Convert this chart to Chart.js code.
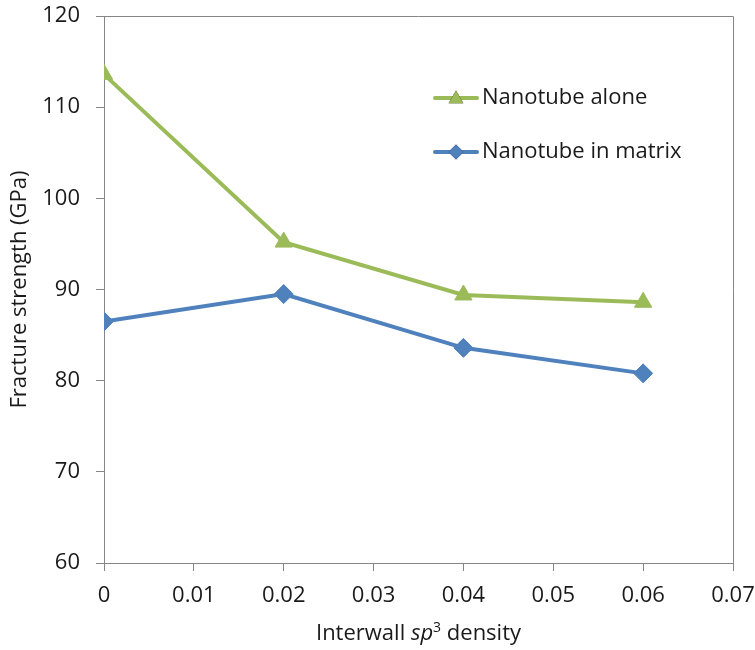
<!DOCTYPE html>
<html>
<head>
<meta charset="utf-8">
<script src="https://cdn.jsdelivr.net/npm/chart.js@4"></script>
<style>
  html, body { margin: 0; padding: 0; background: #ffffff; }
  #wrap { width: 755px; height: 650px; position: relative; }
</style>
</head>
<body>
<div id="wrap"><canvas id="c" width="755" height="650"></canvas></div>
<script>
// ---- data ----
const densities = [0, 0.02, 0.04, 0.06];
const nanotubeAlone = [113.6, 95.2, 89.4, 88.6];
const nanotubeInMatrix = [86.5, 89.5, 83.6, 80.8];
const seriesNames = ['Nanotube alone', 'Nanotube in matrix'];
const xTickValues = [0, 0.01, 0.02, 0.03, 0.04, 0.05, 0.06, 0.07];
const yAxisTitle = 'Fracture strength (GPa)';
const xTitleParts = [['Interwall ', 'normal', false], ['sp', 'italic', false], ['3', 'normal', true], [' density', 'normal', false]];

const FONT = '"Open Sans", Lato, sans-serif';
const FS = 22;
const AXIS_COLOR = '#868686';
const TEXT_COLOR = '#1a1a1a';
const GREEN = '#9BBB59';
const BLUE = '#4F81BD';

const toXY = (xs, ys) => xs.map((x, i) => ({ x: x, y: ys[i] }));

const legendPlugin = {
  id: 'insideLegend',
  afterDraw(chart) {
    const ctx = chart.ctx;
    const items = [
      { ds: chart.data.datasets[0], y: 98 },
      { ds: chart.data.datasets[1], y: 152 }
    ];
    ctx.save();
    items.forEach(it => {
      const ds = it.ds;
      const tri = ds.pointStyle === 'triangle';
      ctx.strokeStyle = ds.borderColor;
      ctx.lineWidth = 4;
      ctx.lineCap = 'round';
      ctx.beginPath();
      ctx.moveTo(435, it.y);
      ctx.lineTo(477, it.y);
      ctx.stroke();
      Chart.helpers.drawPoint(ctx, { pointStyle: ds.pointStyle, radius: tri ? 8.5 : 7.5, rotation: 0 }, 456, it.y + (tri ? 1 : 0));
      ctx.fillStyle = ds.borderColor;
      ctx.fill();
      ctx.fillStyle = TEXT_COLOR;
      ctx.font = FS + 'px ' + FONT;
      ctx.textBaseline = 'middle';
      ctx.textAlign = 'left';
      ctx.fillText(ds.label, 482, it.y);
    });
    ctx.restore();
  }
};

const titlesPlugin = {
  id: 'axisTitles',
  afterDraw(chart) {
    const ctx = chart.ctx;
    const ca = chart.chartArea;
    ctx.save();
    ctx.fillStyle = TEXT_COLOR;
    ctx.font = FS + 'px ' + FONT;
    ctx.textAlign = 'center';
    ctx.textBaseline = 'middle';
    ctx.translate(20, (ca.top + ca.bottom) / 2);
    ctx.rotate(-Math.PI / 2);
    ctx.fillText(yAxisTitle, 0, 0);
    ctx.restore();
    ctx.save();
    ctx.fillStyle = TEXT_COLOR;
    ctx.textBaseline = 'alphabetic';
    ctx.textAlign = 'left';
    const fontFor = p => (p[1] === 'italic' ? 'italic ' : '') + (p[2] ? '14px ' : FS + 'px ') + FONT;
    let total = 0;
    xTitleParts.forEach(p => { ctx.font = fontFor(p); total += ctx.measureText(p[0]).width; });
    let x = (ca.left + ca.right) / 2 - total / 2;
    const base = 640;
    xTitleParts.forEach(p => {
      ctx.font = fontFor(p);
      ctx.fillText(p[0], x, p[2] ? base - 8 : base);
      x += ctx.measureText(p[0]).width;
    });
    ctx.restore();
  }
};

const borderPlugin = {
  id: 'plotBorder',
  beforeDatasetsDraw(chart) {
    const ctx = chart.ctx;
    const ca = chart.chartArea;
    ctx.save();
    ctx.strokeStyle = AXIS_COLOR;
    ctx.lineWidth = 1;
    ctx.beginPath();
    ctx.moveTo(ca.left, ca.top + 0.5);
    ctx.lineTo(ca.right + 0.5, ca.top + 0.5);
    ctx.lineTo(ca.right + 0.5, ca.bottom);
    ctx.stroke();
    ctx.restore();
  }
};

const zeroPad = s => { s.paddingTop = 0; s.paddingBottom = 0; s.paddingLeft = 0; s.paddingRight = 0; };

new Chart(document.getElementById('c'), {
  type: 'line',
  data: {
    datasets: [
      {
        label: seriesNames[0],
        data: toXY(densities, nanotubeAlone),
        borderColor: GREEN,
        backgroundColor: GREEN,
        borderWidth: 4,
        pointStyle: 'triangle',
        pointRadius: 10,
        pointBorderWidth: 1,
        pointBackgroundColor: GREEN,
        pointBorderColor: GREEN,
        tension: 0
      },
      {
        label: seriesNames[1],
        data: toXY(densities, nanotubeInMatrix),
        borderColor: BLUE,
        backgroundColor: BLUE,
        borderWidth: 4,
        pointStyle: 'rectRot',
        pointRadius: 9.5,
        pointBorderWidth: 1,
        pointBackgroundColor: BLUE,
        pointBorderColor: BLUE,
        tension: 0
      }
    ]
  },
  options: {
    responsive: false,
    animation: false,
    layout: { padding: { left: 0, right: 22, top: 16, bottom: 0 } },
    plugins: {
      legend: { display: false },
      tooltip: { enabled: false }
    },
    scales: {
      x: {
        type: 'linear',
        min: 0,
        max: 0.07,
        afterFit: s => { s.height = 87; zeroPad(s); },
        afterBuildTicks: s => { s.ticks = xTickValues.map(v => ({ value: v })); },
        ticks: {
          color: TEXT_COLOR,
          font: { family: FONT, size: FS },
          padding: 12,
          maxRotation: 0,
          autoSkip: false,
          callback: v => String(Number(v.toFixed(2)))
        },
        grid: { display: true, drawOnChartArea: false, drawTicks: true, tickLength: 8, color: AXIS_COLOR, tickColor: AXIS_COLOR },
        border: { display: true, color: AXIS_COLOR, width: 1 }
      },
      y: {
        min: 60,
        max: 120,
        afterFit: s => { s.width = 104; zeroPad(s); },
        ticks: {
          stepSize: 10,
          color: TEXT_COLOR,
          font: { family: FONT, size: FS },
          padding: 16
        },
        grid: { display: true, drawOnChartArea: false, drawTicks: true, tickLength: 8, color: AXIS_COLOR, tickColor: AXIS_COLOR },
        border: { display: true, color: AXIS_COLOR, width: 1 }
      }
    }
  },
  plugins: [borderPlugin, legendPlugin, titlesPlugin]
});
</script>
</body>
</html>
